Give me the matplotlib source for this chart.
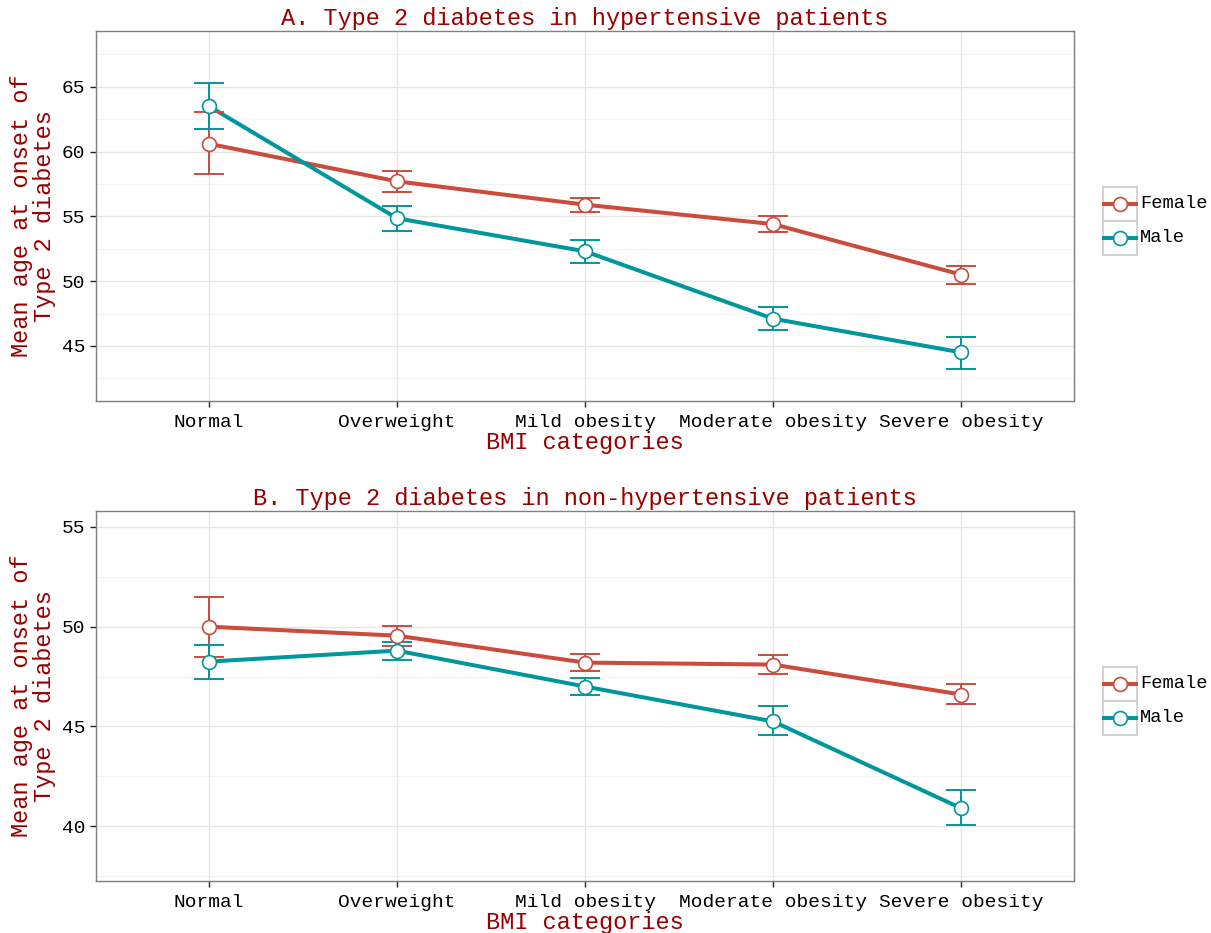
import matplotlib
matplotlib.use("Agg")
import matplotlib.pyplot as plt
from matplotlib.lines import Line2D
from matplotlib.patches import Rectangle
import numpy as np

categories = ["Normal", "Overweight", "Mild obesity", "Moderate obesity", "Severe obesity"]
series = ["Female", "Male"]

# Panel A: hypertensive
a_female = [60.6, 57.7, 55.9, 54.4, 50.5]
a_female_lo = [58.3, 56.85, 55.3, 53.8, 49.75]
a_female_hi = [63.05, 58.5, 56.45, 55.0, 51.15]
a_male = [63.5, 54.85, 52.3, 47.1, 44.5]
a_male_lo = [61.7, 53.85, 51.4, 46.2, 43.25]
a_male_hi = [65.3, 55.8, 53.15, 48.0, 45.7]

# Panel B: non-hypertensive
b_female = [50.0, 49.55, 48.2, 48.1, 46.6]
b_female_lo = [48.5, 49.05, 47.8, 47.65, 46.1]
b_female_hi = [51.5, 50.05, 48.65, 48.6, 47.15]
b_male = [48.25, 48.8, 47.0, 45.25, 40.9]
b_male_lo = [47.4, 48.35, 46.6, 44.55, 40.05]
b_male_hi = [49.1, 49.25, 47.45, 46.0, 41.8]

titles = ["A. Type 2 diabetes in hypertensive patients",
          "B. Type 2 diabetes in non-hypertensive patients"]
xlabel = "BMI categories"
ylabel = "Mean age at onset of\nType 2 diabetes"

colors = ["#CB4B3C", "#00979C"]
title_col = "#990000"
FONT = "Liberation Mono"

W, H = 1211, 933
fig = plt.figure(figsize=(W / 100, H / 100), dpi=100)

def fx(px):
    return px / W

def fy(py):
    return 1 - py / H

panels = [
    dict(top=31, bottom=401, ylim=(40.75, 69.3), yticks=[45, 50, 55, 60, 65],
         minor=[42.5, 47.5, 52.5, 57.5, 62.5, 67.5],
         data=[(a_female, a_female_lo, a_female_hi), (a_male, a_male_lo, a_male_hi)]),
    dict(top=511, bottom=881, ylim=(37.25, 55.8), yticks=[40, 45, 50, 55],
         minor=[37.5, 42.5, 47.5, 52.5],
         data=[(b_female, b_female_lo, b_female_hi), (b_male, b_male_lo, b_male_hi)]),
]

left_px, right_px = 96, 1074
x = np.arange(1, len(categories) + 1)

for i, p in enumerate(panels):
    ax = fig.add_axes([fx(left_px), fy(p["bottom"]), (right_px - left_px) / W,
                       (p["bottom"] - p["top"]) / H])
    ax.set_xlim(0.4, len(categories) + 0.6)
    ax.set_ylim(*p["ylim"])
    # grid
    for m in p["minor"]:
        ax.axhline(m, color="#F5F5F5", lw=0.8, zorder=0)
    for t in p["yticks"]:
        ax.axhline(t, color="#E6E6E6", lw=1.0, zorder=0)
    for xv in x:
        ax.axvline(xv, color="#E6E6E6", lw=1.0, zorder=0)
    # lines
    for (vals, lo, hi), c in zip(p["data"], colors):
        ax.plot(x, vals, color=c, lw=2.9, zorder=2, solid_capstyle="butt")
    for (vals, lo, hi), c in zip(p["data"], colors):
        ax.vlines(x, lo, hi, color=c, lw=1.4, zorder=3)
        ax.hlines(lo, x - 0.08, x + 0.08, color=c, lw=1.4, zorder=3)
        ax.hlines(hi, x - 0.08, x + 0.08, color=c, lw=1.4, zorder=3)
    for (vals, lo, hi), c in zip(p["data"], colors):
        ax.plot(x, vals, ls="none", marker="o", ms=10, mfc="white", mec=c,
                mew=1.2, zorder=4)
    ax.set_xticks(x)
    ax.set_xticklabels(categories, fontfamily=FONT, fontsize=14, color="black")
    ax.set_yticks(p["yticks"])
    ax.set_yticklabels([str(t) for t in p["yticks"]], fontfamily=FONT, fontsize=14,
                       color="black")
    ax.tick_params(axis="both", length=4.5, width=1.0, color="#222222", pad=3)
    ax.tick_params(axis="x", pad=5)
    for s in ax.spines.values():
        s.set_color("#7F7F7F")
        s.set_linewidth(1.0)
    ax.set_title(titles[i], fontfamily=FONT, fontsize=17, color=title_col, pad=4)
    ax.text(0.5, (p["bottom"] - (p["bottom"] + 41)) / (p["bottom"] - p["top"]),
            xlabel, transform=ax.transAxes, ha="center", va="center",
            fontfamily=FONT, fontsize=17, color=title_col)
    yc = (p["top"] + p["bottom"]) / 2
    fig.text(fx(33), fy(yc), ylabel, rotation=90, ha="center", va="center",
             multialignment="center", linespacing=1.05,
             fontfamily=FONT, fontsize=17, color=title_col)

    # legend
    lcy = yc + 5
    box = 34
    for j, (name, c) in enumerate(zip(series, colors)):
        top = lcy - box + j * box
        fig.add_artist(Rectangle((fx(1103), fy(top + box)), box / W, box / H,
                                 transform=fig.transFigure, facecolor="white",
                                 edgecolor="#CCCCCC", lw=1.2))
        cy = top + box / 2
        fig.add_artist(Line2D([fx(1104), fx(1136)], [fy(cy), fy(cy)],
                              transform=fig.transFigure, color=c, lw=2.9))
        fig.add_artist(Line2D([fx(1120)], [fy(cy)], transform=fig.transFigure,
                              ls="none", marker="o", ms=10, mfc="white", mec=c,
                              mew=1.2))
        fig.text(fx(1140), fy(cy), name, ha="left", va="center",
                 fontfamily=FONT, fontsize=13.5, color="black")

fig.savefig("out.png", dpi=100, facecolor="white")
